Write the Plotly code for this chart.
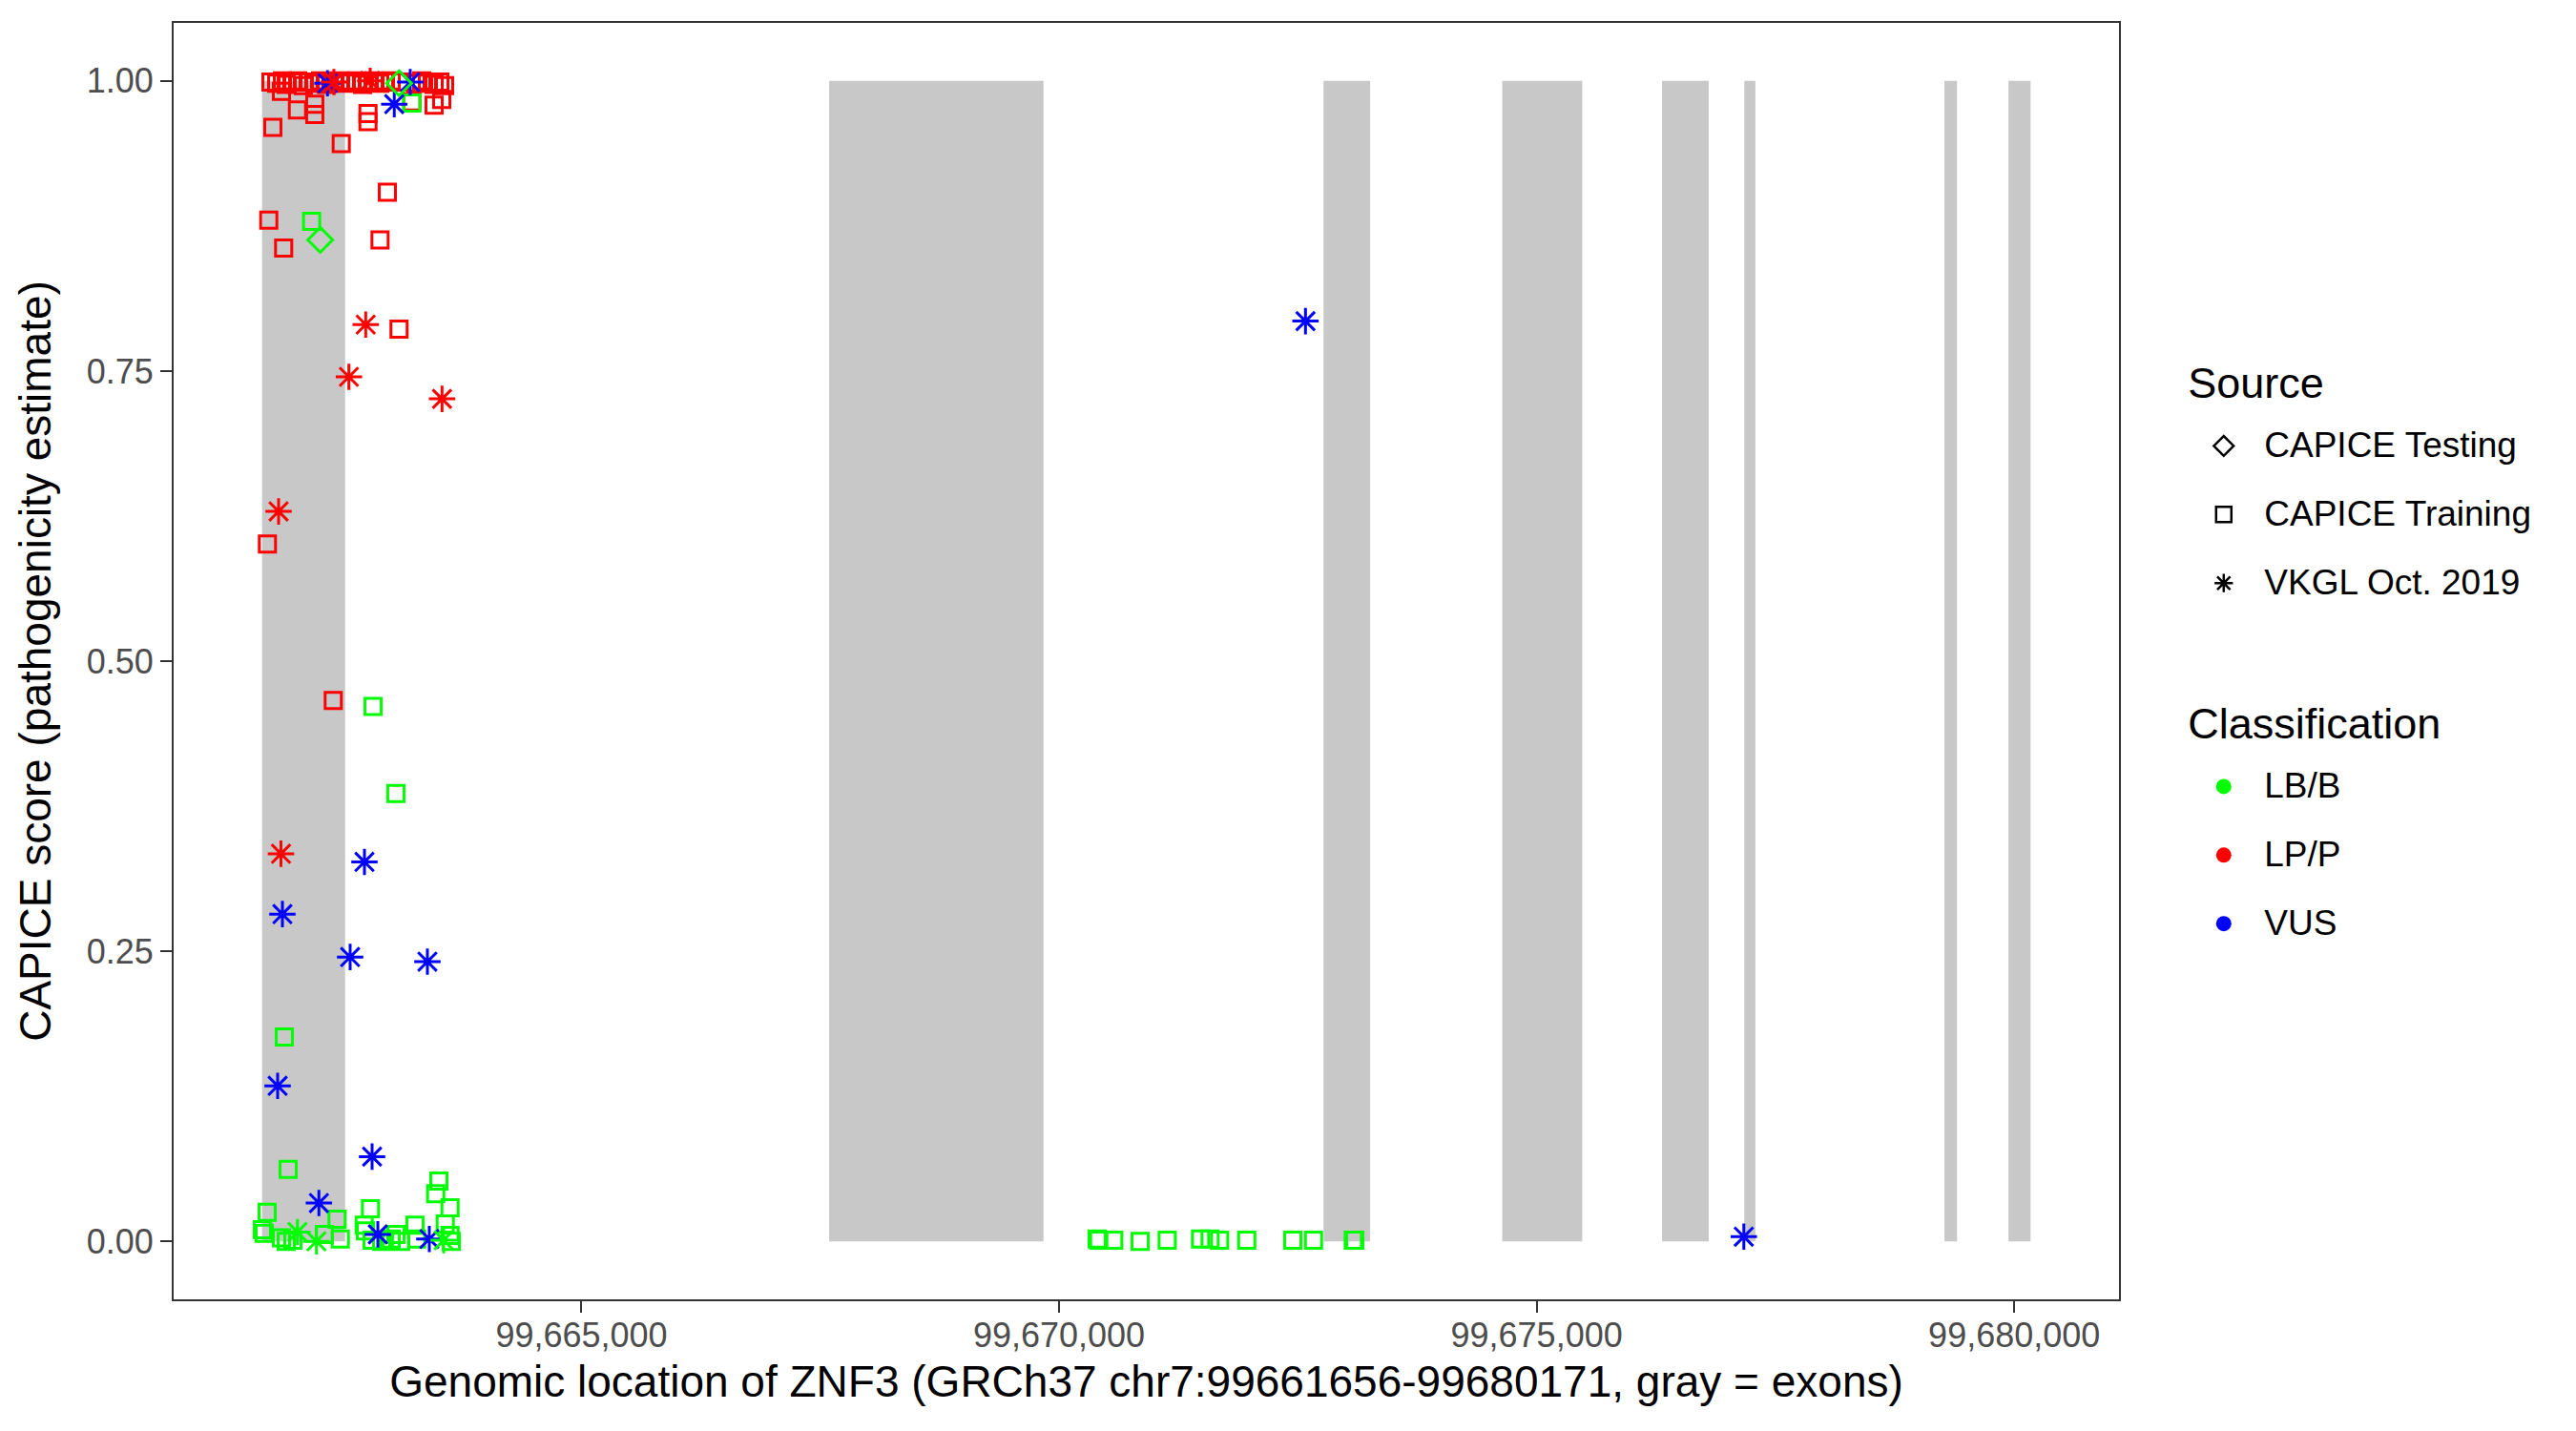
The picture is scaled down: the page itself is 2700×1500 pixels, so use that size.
import plotly.graph_objects as go

# ---------------- data ----------------
gene_start = 99661656
gene_end = 99680171

exon_start = [99661656, 99667593, 99672769, 99674640, 99676313, 99677174, 99679269, 99679940]
exon_end = [99662525, 99669837, 99673257, 99675477, 99676801, 99677290, 99679401, 99680171]

x_ticks = [99665000, 99670000, 99675000, 99680000]
y_ticks = [0.0, 0.25, 0.50, 0.75, 1.0]

# CAPICE Training, LP/P
train_lp_pos = [99661749, 99661809, 99661869, 99661909, 99661969, 99662029, 99662088, 99662148,
                99662208, 99662268, 99662328, 99662408, 99662468, 99662528, 99662588, 99662648,
                99662708, 99662768, 99662828, 99662888, 99662948, 99663008, 99663107, 99663267,
                99663327, 99663387, 99663457, 99663517, 99663567,
                99661859, 99662026, 99662208, 99662208, 99661769, 99662485, 99662765, 99662765,
                99663224, 99663457, 99663537, 99662968, 99661726, 99661882, 99662891, 99663090,
                99661712, 99662401]
train_lp_score = [0.999, 0.998, 1.000, 0.997, 0.999, 1.000, 0.996, 0.999,
                  0.998, 1.000, 0.997, 0.999, 1.000, 0.998, 0.999, 1.000,
                  0.997, 0.999, 1.000, 0.998, 0.999, 1.000, 0.999, 0.998,
                  1.000, 0.999, 0.997, 0.999, 0.996,
                  0.991, 0.975, 0.980, 0.971, 0.960, 0.946, 0.972, 0.965,
                  0.982, 0.979, 0.984, 0.904, 0.880, 0.856, 0.863, 0.786,
                  0.601, 0.466]

# CAPICE Training, LB/B
train_lb_pos = [99662175, 99662818, 99663057, 99661889, 99661929, 99661709, 99661659, 99661679,
                99661859, 99661909, 99661979, 99662308, 99662441, 99662475, 99662791, 99662725,
                99662738, 99662808, 99662908, 99663008, 99663107, 99663057, 99663257, 99663274,
                99663507, 99663474, 99663624, 99663574, 99663624, 99663637, 99663224,
                99670399, 99670416, 99670572, 99670849, 99671132, 99671481, 99671581, 99671681,
                99671965, 99672447, 99672664, 99673080, 99673096]
train_lb_score = [0.879, 0.461, 0.386, 0.176, 0.062, 0.025, 0.010, 0.007,
                  0.003, 0.000, 0.001, 0.006, 0.019, 0.002, 0.028, 0.014,
                  0.009, 0.001, 0.000, 0.002, 0.000, 0.006, 0.014, 0.002,
                  0.052, 0.041, 0.029, 0.015, 0.005, 0.000, 0.981,
                  0.002, 0.001, 0.001, 0.000, 0.001, 0.002, 0.002, 0.001,
                  0.001, 0.001, 0.001, 0.001, 0.001]

# CAPICE Testing, LB/B
test_lb_pos = [99662265, 99663090]
test_lb_score = [0.863, 0.998]

# VKGL Oct. 2019, LP/P
vkgl_lp_pos = [99662741, 99662565, 99663540, 99661829, 99661854, 99662408, 99662788]
vkgl_lp_score = [0.790, 0.745, 0.726, 0.629, 0.334, 0.999, 1.000]

# VKGL Oct. 2019, VUS
vkgl_vus_pos = [99662341, 99663040, 99663207, 99661869, 99662728, 99662578, 99663387,
                99661819, 99662808, 99662251, 99662868, 99663407, 99672580, 99677169]
vkgl_vus_score = [0.998, 0.980, 0.999, 0.282, 0.327, 0.245, 0.241,
                  0.134, 0.073, 0.033, 0.006, 0.002, 0.793, 0.004]

# VKGL Oct. 2019, LB/B
vkgl_lb_pos = [99662026, 99662225, 99663557]
vkgl_lb_score = [0.008, 0.000, 0.001]

source_names = ["CAPICE Testing", "CAPICE Training", "VKGL Oct. 2019"]
class_names = ["LB/B", "LP/P", "VUS"]

# ---------------- styles ----------------
FONT = "Liberation Sans, Arial, Helvetica, sans-serif"
colors = {"LB/B": "#00FF00", "LP/P": "#FF0000", "VUS": "#0000FF"}
symbols = {"CAPICE Testing": "diamond-open", "CAPICE Training": "square-open",
           "VKGL Oct. 2019": "asterisk-open"}
sizes = {"CAPICE Testing": 20, "CAPICE Training": 17, "VKGL Oct. 2019": 23}

fig = go.Figure()

for s, e in zip(exon_start, exon_end):
    fig.add_shape(type="rect", xref="x", yref="y", x0=s, x1=e, y0=0, y1=1,
                  fillcolor="#C8C8C8", line_width=0, layer="below")

groups = [
    ("CAPICE Training", "LP/P", train_lp_pos, train_lp_score),
    ("CAPICE Training", "LB/B", train_lb_pos, train_lb_score),
    ("VKGL Oct. 2019", "VUS", vkgl_vus_pos, vkgl_vus_score),
    ("VKGL Oct. 2019", "LP/P", vkgl_lp_pos, vkgl_lp_score),
    ("VKGL Oct. 2019", "LB/B", vkgl_lb_pos, vkgl_lb_score),
    ("CAPICE Testing", "LB/B", test_lb_pos, test_lb_score),
]
for src, cls, xs, ys in groups:
    fig.add_trace(go.Scatter(
        x=xs, y=ys, mode="markers", showlegend=False, hoverinfo="x+y",
        marker=dict(symbol=symbols[src], size=sizes[src], color=colors[cls],
                    line=dict(color=colors[cls], width=3))))

def leg_text(t):
    return '<span style="font-size:37px;baseline-shift:9px">' + t + '</span>'

def grp_title(t):
    return dict(text='<span style="font-size:45px">' + t + '</span>',
                font=dict(size=51, color="black", family=FONT))

for i, src in enumerate(source_names):
    fig.add_trace(go.Scatter(
        x=[None], y=[None], mode="markers", name=leg_text(src),
        legendgroup="source",
        legendgrouptitle=grp_title("Source") if i == 0 else None,
        marker=dict(symbol=symbols[src], size=16, color="black",
                    line=dict(color="black", width=2.5))))
for i, cls in enumerate(class_names):
    fig.add_trace(go.Scatter(
        x=[None], y=[None], mode="markers", name=leg_text(cls),
        legendgroup="class",
        legendgrouptitle=grp_title("Classification") if i == 0 else None,
        marker=dict(symbol="circle", size=16, color=colors[cls])))

span = gene_end - gene_start
fig.update_layout(
    width=2700, height=1500,
    margin=dict(l=174, r=487, t=16, b=146, autoexpand=False),
    paper_bgcolor="white", plot_bgcolor="white",
    font=dict(family=FONT, color="black"),
    legend=dict(x=1.033, y=0.751, xanchor="left", yanchor="top",
                font=dict(size=53, family=FONT, color="black"),
                itemwidth=75, tracegroupgap=72, traceorder="grouped",
                bgcolor="rgba(0,0,0,0)"),
    xaxis=dict(range=[gene_start - 0.05 * span, gene_end + 0.05 * span],
               tickvals=x_ticks, tickformat=",d",
               showgrid=False, zeroline=False,
               showline=True, mirror=True, linecolor="#333333", linewidth=2,
               ticks="outside", ticklen=12, tickwidth=2, tickcolor="#333333",
               ticklabelstandoff=-7,
               tickfont=dict(size=36, color="#4D4D4D", family=FONT),
               title=dict(text="Genomic location of ZNF3 (GRCh37 chr7:99661656-99680171, gray = exons)",
                          font=dict(size=46, color="black", family=FONT), standoff=13)),
    yaxis=dict(range=[-0.05, 1.05], tickvals=y_ticks, tickformat=".2f",
               showgrid=False, zeroline=False,
               showline=True, mirror=True, linecolor="#333333", linewidth=2,
               ticks="outside", ticklen=12, tickwidth=2, tickcolor="#333333",
               tickfont=dict(size=36, color="#4D4D4D", family=FONT),
               title=dict(text="CAPICE score (pathogenicity estimate)",
                          font=dict(size=46, color="black", family=FONT), standoff=23)),
)

fig.write_html("out.html")
